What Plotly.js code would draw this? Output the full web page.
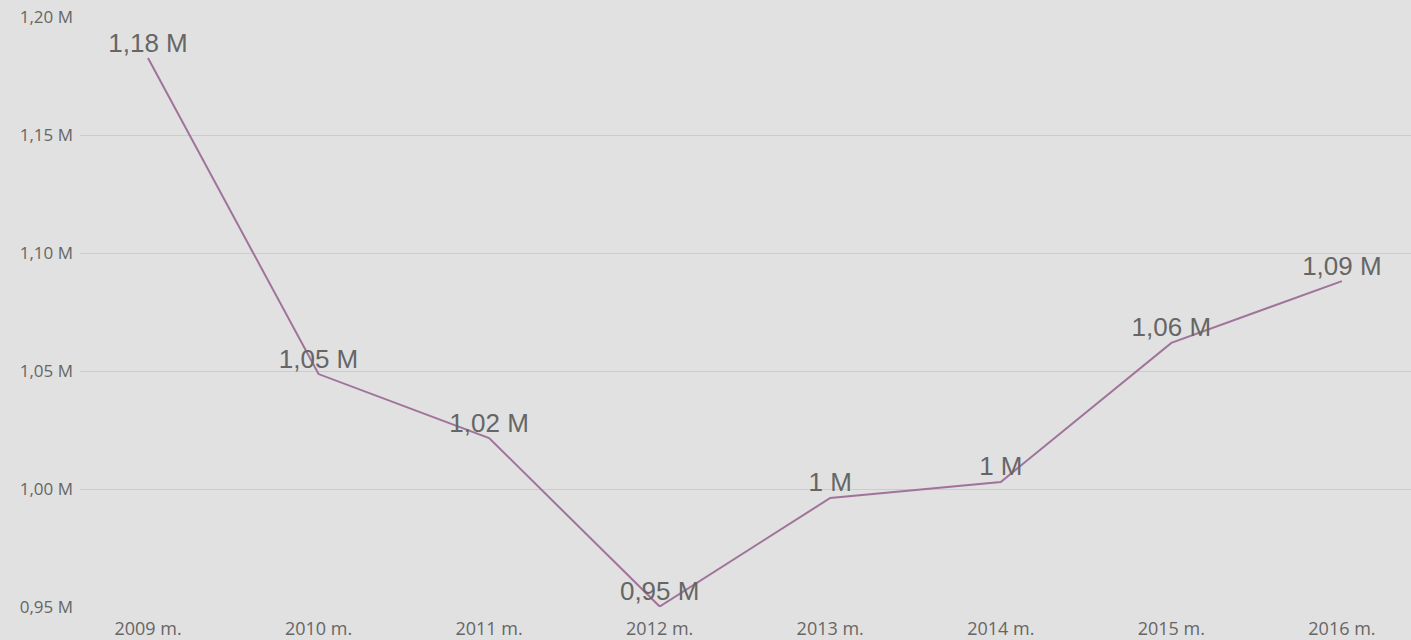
<!DOCTYPE html>
<html>
<head>
<meta charset="utf-8">
<script src="https://cdn.plot.ly/plotly-3.0.1.min.js"></script>
<style>
html,body{margin:0;padding:0;background:#e1e1e1;}
#chart{width:1411px;height:640px;}
</style>
</head>
<body>
<div id="chart"></div>
<script>
const categories = ["2009 m.", "2010 m.", "2011 m.", "2012 m.", "2013 m.", "2014 m.", "2015 m.", "2016 m."];
const values = [1182600, 1048700, 1021600, 950200, 996200, 1003000, 1061900, 1088100];
const valueLabels = ["1,18 M", "1,05 M", "1,02 M", "0,95 M", "1 M", "1 M", "1,06 M", "1,09 M"];
const yTickVals = [950000, 1000000, 1050000, 1100000, 1150000, 1200000];
const yTickText = ["0,95 M", "1,00 M", "1,05 M", "1,10 M", "1,15 M", "1,20 M"];

const trace = {
  type: "scatter",
  mode: "lines+text",
  x: categories.map((c, i) => i),
  y: values,
  text: valueLabels,
  textposition: "top center",
  textfont: {family: "Liberation Sans, Arial, sans-serif", size: 26, color: "#666666"},
  line: {color: "#a0739b", width: 2},
  cliponaxis: false,
  hoverinfo: "x+y"
};

const layout = {
  width: 1411,
  height: 640,
  paper_bgcolor: "#e1e1e1",
  plot_bgcolor: "#e1e1e1",
  margin: {l: 80, r: 0, t: 17, b: 33},
  showlegend: false,
  xaxis: {
    type: "linear",
    range: [-0.3987, 7.405],
    tickvals: categories.map((c, i) => i),
    ticktext: categories,
    showgrid: false,
    zeroline: false,
    showline: false,
    ticks: "",
    tickfont: {family: "Open Sans, sans-serif", size: 18, color: "#666666"},
    ticklabelstandoff: 9
  },
  yaxis: {
    range: [950000, 1200000],
    tickvals: yTickVals,
    ticktext: yTickText,
    showgrid: true,
    gridcolor: "#cccccc",
    gridwidth: 1,
    zeroline: false,
    showline: false,
    ticks: "",
    tickfont: {family: "Open Sans, sans-serif", size: 17, color: "#666666"},
    ticklabelstandoff: 6
  }
};

Plotly.newPlot("chart", [trace], layout, {displayModeBar: false, staticPlot: true});
</script>
</body>
</html>
